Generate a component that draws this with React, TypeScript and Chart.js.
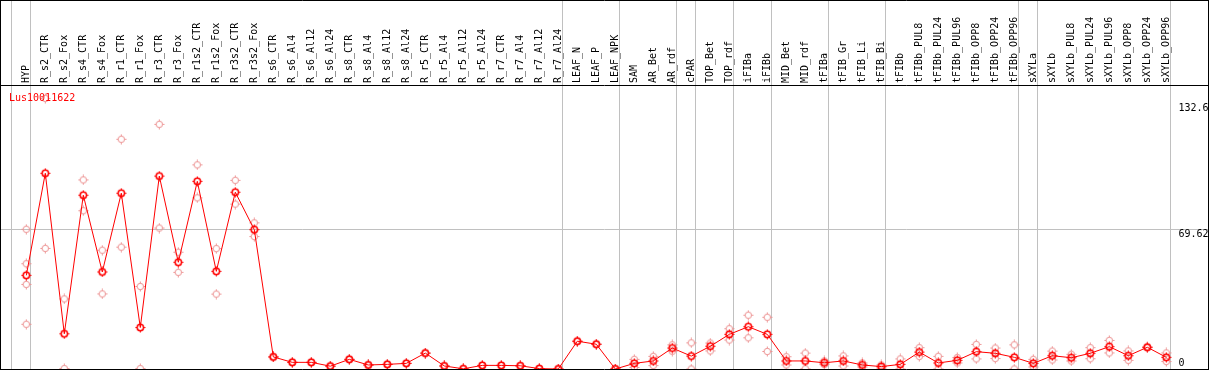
import React, { useEffect, useRef } from "react";
import { Chart, registerables } from "chart.js";

Chart.register(...registerables);

const GENE = "Lus10011622";

const CATEGORIES = [
  "HYP", "R_s2_CTR", "R_s2_Fox", "R_s4_CTR", "R_s4_Fox", "R_r1_CTR", "R_r1_Fox",
  "R_r3_CTR", "R_r3_Fox", "R_r1s2_CTR", "R_r1s2_Fox", "R_r3s2_CTR", "R_r3s2_Fox",
  "R_s6_CTR", "R_s6_Al4", "R_s6_Al12", "R_s6_Al24", "R_s8_CTR", "R_s8_Al4",
  "R_s8_Al12", "R_s8_Al24", "R_r5_CTR", "R_r5_Al4", "R_r5_Al12", "R_r5_Al24",
  "R_r7_CTR", "R_r7_Al4", "R_r7_Al12", "R_r7_Al24", "LEAF_N", "LEAF_P", "LEAF_NPK",
  "SAM", "AR_Bet", "AR_rdf", "cPAR", "TOP_Bet", "TOP_rdf", "iFIBa", "iFIBb",
  "MID_Bet", "MID_rdf", "tFIBa", "tFIB_Gr", "tFIB_Li", "tFIB_Bi", "tFIBb",
  "tFIBb_PUL8", "tFIBb_PUL24", "tFIBb_PUL96", "tFIBb_OPP8", "tFIBb_OPP24",
  "tFIBb_OPP96", "sXYLa", "sXYLb", "sXYLb_PUL8", "sXYLb_PUL24", "sXYLb_PUL96",
  "sXYLb_OPP8", "sXYLb_OPP24", "sXYLb_OPP96",
];

const MEANS = [
  46.5, 97.2, 17.5, 86.3, 48.2, 87.3, 20.6, 95.8, 53.0, 93.2, 48.5, 87.8, 69.2,
  6.0, 3.3, 3.3, 1.4, 4.8, 2.0, 2.3, 2.8, 7.9, 1.5, 0.1, 1.8, 1.8, 1.6, 0.2, 0.0,
  13.8, 12.3, 0.0,
  2.8, 4.0, 10.4, 6.4, 11.3, 17.2, 21.0, 17.2, 4.0, 4.0, 3.1, 4.0, 2.0, 1.2, 2.3,
  8.4, 3.0, 4.3, 8.6, 7.8, 5.8, 2.8, 6.6, 5.6, 7.8, 11.1, 6.6, 10.8, 5.8,
];

const REP_A = [
  69.4, 134.4, 34.8, 93.9, 59.0, 114.1, 41.0, 121.5, 58.0, 101.4, 59.8, 93.7, 72.6,
  6.0, 3.3, 3.3, 1.4, 4.8, 2.0, 2.3, 2.8, 7.9, 1.5, 0.1, 1.8, 1.8, 1.6, 0.2, 0.0,
  13.8, 12.3, 0.0,
  4.8, 6.3, 12.0, 13.0, 12.9, 20.0, 26.7, 25.7, 6.1, 7.9, 4.0, 6.5, 3.0, 2.0, 5.0,
  10.6, 6.3, 5.7, 12.2, 10.4, 12.0, 4.8, 8.9, 7.3, 10.6, 14.2, 9.0, 11.0, 8.0,
];

const REP_B = [
  52.3, 59.9, 0.2, 78.6, 37.3, 60.5, 0.2, 70.0, 48.0, 85.0, 37.2, 81.9, 65.8,
  6.0, 3.3, 3.3, 1.4, 4.8, 2.0, 2.3, 2.8, 7.9, 1.5, 0.1, 1.8, 1.8, 1.6, 0.2, 0.0,
  13.8, 12.3, 0.0,
  0.8, 1.7, 8.8, 0.0, 9.0, 14.4, 15.5, 8.7, 2.0, 0.1, 2.2, 1.5, 1.0, 0.5, 0.0,
  6.2, 0.0, 3.0, 5.0, 5.2, 0.0, 1.0, 4.5, 4.0, 5.1, 8.0, 4.3, 10.6, 3.7,
];

// extra replicates only measured for HYP (index 0)
const REP_HYP_EXTRA = [42.0, 22.2];

// indices after which a grey group separator is drawn
const GROUP_ENDS = [-1, 0, 28, 31, 34, 35, 37, 39, 42, 45, 52, 53, 60];

const Y_TICKS = [132.6, 69.62, 0];
const Y_GRID = [69.62];
const Y_MAX = 132.6;

const FONT = "10px 'DejaVu Sans Mono', monospace";
const W = 1209;
const H = 370;

function makeMarker(color: string, lw: number): HTMLCanvasElement {
  const c = document.createElement("canvas");
  c.width = 11;
  c.height = 11;
  const g = c.getContext("2d")!;
  g.strokeStyle = color;
  g.lineWidth = lw;
  g.beginPath();
  g.arc(5.5, 5.5, 3.2, 0, Math.PI * 2);
  g.stroke();
  g.lineWidth = 1;
  g.beginPath();
  g.moveTo(5.5, 0.5); g.lineTo(5.5, 2.5);
  g.moveTo(5.5, 8.5); g.lineTo(5.5, 10.5);
  g.moveTo(0.5, 5.5); g.lineTo(2.5, 5.5);
  g.moveTo(8.5, 5.5); g.lineTo(10.5, 5.5);
  g.stroke();
  return c;
}

export default function App() {
  const ref = useRef<HTMLCanvasElement | null>(null);

  useEffect(() => {
    const canvas = ref.current;
    if (!canvas) return;
    const meanMarker = makeMarker("#ff0000", 1.5);
    const repMarker = makeMarker("#ec9090", 1);

    const meanData = MEANS.map((v, i) => ({ x: i, y: v }));
    const repData = [
      ...REP_A.map((v, i) => ({ x: i, y: v })),
      ...REP_B.map((v, i) => ({ x: i, y: v })),
      ...REP_HYP_EXTRA.map((v) => ({ x: 0, y: v })),
    ];

    const line = (ctx: CanvasRenderingContext2D, x1: number, y1: number, x2: number, y2: number) => {
      ctx.beginPath();
      ctx.moveTo(x1, y1);
      ctx.lineTo(x2, y2);
      ctx.stroke();
    };

    const decor = {
      id: "decor",
      beforeDraw(chart: any) {
        const { ctx, scales } = chart;
        const xs = scales.x;
        const ys = scales.y;
        const bottom = chart.chartArea.bottom;
        ctx.save();
        ctx.fillStyle = "#ffffff";
        ctx.fillRect(0, 0, W, H);
        ctx.strokeStyle = "#c0c0c0";
        ctx.lineWidth = 1;
        GROUP_ENDS.forEach((i) => {
          const px = Math.round(xs.getPixelForValue(i + 0.23)) - 0.5;
          line(ctx, px, 0, px, bottom);
        });
        Y_GRID.forEach((v) => {
          const py = Math.round(ys.getPixelForValue(v)) + 0.5;
          line(ctx, 0, py, W, py);
        });
        ctx.restore();
      },
      afterDatasetsDraw(chart: any) {
        const { ctx, scales } = chart;
        const xs = scales.x;
        const ys = scales.y;
        const bottom = chart.chartArea.bottom;
        ctx.save();
        ctx.font = FONT;
        // category labels in header
        ctx.fillStyle = "#000000";
        ctx.textAlign = "left";
        ctx.textBaseline = "middle";
        CATEGORIES.forEach((c, i) => {
          const px = xs.getPixelForValue(i);
          ctx.save();
          ctx.translate(Math.round(px), 83);
          ctx.rotate(-Math.PI / 2);
          ctx.fillText(c, 0, 0);
          ctx.restore();
        });
        // y tick labels on the right
        ctx.textBaseline = "top";
        Y_TICKS.forEach((v) => {
          const py = ys.getPixelForValue(v);
          const ty = Math.min(py + 1, bottom - 11);
          ctx.fillText(String(v), 1178.5, ty);
        });
        // gene title
        ctx.fillStyle = "#ff0000";
        ctx.textBaseline = "alphabetic";
        ctx.fillText(GENE, 9, 101);
        // borders
        ctx.strokeStyle = "#000000";
        ctx.lineWidth = 1;
        line(ctx, 0, 0.5, W, 0.5);
        line(ctx, 0, 85.5, W, 85.5);
        line(ctx, 0.5, 0, 0.5, H);
        line(ctx, 1208.5, 0, 1208.5, H);
        line(ctx, 0, bottom + 0.5, W, bottom + 0.5);
        ctx.restore();
      },
    };

    const chart = new Chart(canvas, {
      type: "line",
      data: {
        datasets: [
          {
            label: GENE,
            data: meanData,
            borderColor: "#ff0000",
            borderWidth: 1,
            tension: 0,
            pointStyle: meanMarker as any,
            pointRadius: 4,
            fill: false,
            clip: false as any,
          },
          {
            label: "replicates",
            data: repData,
            showLine: false,
            borderColor: "#ec9090",
            pointStyle: repMarker as any,
            pointRadius: 4,
            clip: false as any,
          },
        ],
      },
      options: {
        responsive: false,
        animation: false,
        devicePixelRatio: 1,
        layout: { autoPadding: false, padding: { left: 26.3, right: W - 1166.3, top: 102, bottom: 1 } },
        plugins: { legend: { display: false }, tooltip: { enabled: false }, title: { display: false } },
        events: [],
        scales: {
          x: { type: "linear", min: 0, max: CATEGORIES.length - 1, display: false },
          y: { type: "linear", min: 0, max: Y_MAX, display: false },
        },
      },
      plugins: [decor],
    } as any);
    return () => chart.destroy();
  }, []);

  return (
    <div style={{ position: "absolute", left: 0, top: 0, width: W, height: H, background: "#fff" }}>
      <canvas ref={ref} width={W} height={H} style={{ width: W, height: H, display: "block" }} />
    </div>
  );
}
